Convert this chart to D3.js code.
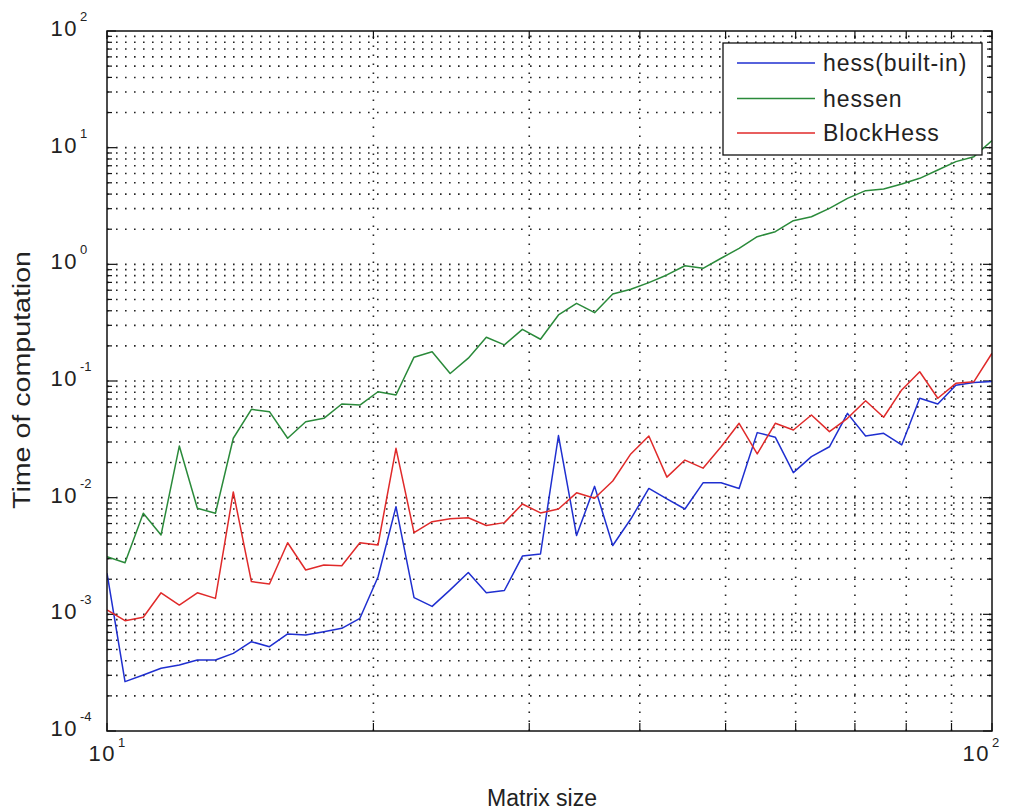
<!DOCTYPE html>
<html>
<head>
<meta charset="utf-8">
<script src="https://cdn.jsdelivr.net/npm/d3@7"></script>
<style>
  html, body { margin: 0; padding: 0; background: #fff; }
  svg { display: block; }
  text { font-family: "Liberation Sans", Arial, Helvetica, sans-serif; fill: #222; }
</style>
</head>
<body>
<svg id="chart" width="1013" height="811"></svg>
<script>
// ---- data ----
const sizes = [10.00,10.48,10.99,11.51,12.07,12.65,13.26,13.89,14.56,15.26,16.00,16.77,17.58,18.42,19.31,20.24,21.21,22.23,23.30,24.42,25.60,26.83,28.12,29.47,30.89,32.37,33.93,35.56,37.28,39.07,40.95,42.92,44.98,47.15,49.42,51.79,54.29,56.90,59.64,62.51,65.51,68.66,71.97,75.43,79.06,82.86,86.85,91.03,95.41,100.00];

const hessBuiltin = [0.00225,0.000265,0.000302,0.000345,0.000368,0.000406,0.000406,0.000463,0.000583,0.000528,
  0.000679,0.000665,0.000710,0.000759,0.000925,0.00209,0.00837,0.00139,0.00117,0.00162,
  0.00228,0.00153,0.00160,0.00316,0.00329,0.0341,0.00474,0.0125,0.00389,0.00656,
  0.0120,0.00975,0.00800,0.0134,0.0134,0.0120,0.0361,0.0330,0.0164,0.0225,
  0.0273,0.0528,0.0338,0.0356,0.0283,0.0711,0.0635,0.0920,0.0970,0.0990];

const hessen = [0.00312,0.00277,0.00735,0.00479,0.0277,0.00811,0.00735,0.0323,0.0572,0.0546,
  0.0323,0.0448,0.0479,0.0635,0.0622,0.0809,0.0759,0.160,0.178,0.116,
  0.157,0.237,0.204,0.277,0.228,0.368,0.463,0.385,0.557,0.611,
  0.697,0.811,0.973,0.925,1.127,1.372,1.726,1.905,2.366,2.56,
  3.02,3.68,4.28,4.42,4.88,5.46,6.44,7.59,8.37,11.5];

const blockHess = [0.00109,0.000883,0.000944,0.00153,0.00120,0.00153,0.00137,0.0112,0.00191,0.00182,
  0.00411,0.00240,0.00265,0.00261,0.00411,0.00393,0.0265,0.00501,0.00622,0.00659,
  0.00673,0.00578,0.00611,0.00883,0.00740,0.00800,0.0110,0.00988,0.0139,0.0237,
  0.0338,0.0150,0.0210,0.0179,0.0273,0.0434,0.0237,0.0434,0.0380,0.0511,
  0.0368,0.0479,0.0678,0.0489,0.0838,0.120,0.0711,0.0955,0.0986,0.173];

const seriesNames = ["hess(built-in)", "hessen", "BlockHess"];
const seriesColors = ["#1f2fd0", "#2a8a3a", "#e02a2a"];
const xTickValues = [10, 100];
const xTickExponents = ["1", "2"];
const yTickValues = [1e-4, 1e-3, 1e-2, 1e-1, 1e0, 1e1, 1e2];
const yTickExponents = ["-4", "-3", "-2", "-1", "0", "1", "2"];
const xTitle = "Matrix size";
const yTitle = "Time of computation";

// ---- layout ----
const L = 107, R = 992, T = 31, B = 731;
const svg = d3.select("#chart");

const x = d3.scaleLog().domain([10, 100]).range([L, R]);
const y = d3.scaleLog().domain([1e-4, 1e2]).range([B, T]);

// minor positions
const xMinor = d3.range(10, 101, 10);
const yMinor = [];
for (let e = -4; e < 2; e++) for (let m = 1; m <= 9; m++) yMinor.push(m * Math.pow(10, e));
yMinor.push(100);

// grid (dotted)
const grid = svg.append("g").attr("stroke", "#222").attr("stroke-width", 1.6)
  .attr("stroke-dasharray", "1.6,7.4").attr("fill", "none");
grid.selectAll("line.gy").data(yMinor.filter(v => v > 1e-4 && v < 1e2)).join("line")
  .attr("x1", L).attr("x2", R).attr("y1", d => y(d)).attr("y2", d => y(d));
grid.selectAll("line.gx").data(xMinor.filter(v => v > 10 && v < 100)).join("line")
  .attr("y1", B).attr("y2", T).attr("x1", d => x(d)).attr("x2", d => x(d));

// ticks (inside, all four sides)
const ticks = svg.append("g").attr("stroke", "#111").attr("stroke-width", 1.2);
yMinor.forEach(v => {
  const isMajor = Math.abs(Math.log10(v) - Math.round(Math.log10(v))) < 1e-9;
  const len = isMajor ? 9 : 5;
  ticks.append("line").attr("x1", L).attr("x2", L + len).attr("y1", y(v)).attr("y2", y(v));
  ticks.append("line").attr("x1", R).attr("x2", R - len).attr("y1", y(v)).attr("y2", y(v));
});
xMinor.forEach(v => {
  const len = 8;
  ticks.append("line").attr("y1", B).attr("y2", B - len).attr("x1", x(v)).attr("x2", x(v));
  ticks.append("line").attr("y1", T).attr("y2", T + len).attr("x1", x(v)).attr("x2", x(v));
});

// lines
const line = d3.line().x((d, i) => x(sizes[i])).y(d => y(d));
const allSeries = [hessBuiltin, hessen, blockHess];
svg.append("clipPath").attr("id", "clip").append("rect")
  .attr("x", L).attr("y", T).attr("width", R - L).attr("height", B - T);
svg.append("g").attr("clip-path", "url(#clip)")
  .selectAll("path").data(allSeries).join("path")
  .attr("d", d => line(d))
  .attr("fill", "none")
  .attr("stroke", (d, i) => seriesColors[i])
  .attr("stroke-width", 1.5)
  .attr("stroke-linejoin", "round");

// frame
svg.append("rect").attr("x", L).attr("y", T).attr("width", R - L).attr("height", B - T)
  .attr("fill", "none").attr("stroke", "#111").attr("stroke-width", 1.5);

// y tick labels
const yl = svg.append("g");
yTickValues.forEach((v, i) => {
  const g = yl.append("g").attr("transform", `translate(0,${y(v)})`);
  g.append("text").attr("x", 78).attr("y", 5).attr("text-anchor", "end")
    .attr("font-size", 22).attr("letter-spacing", 1.5).text("10");
  g.append("text").attr("x", 80).attr("y", -10).attr("text-anchor", "start")
    .attr("font-size", 13).text(yTickExponents[i]);
});

// x tick labels
const xLabelEnd = [116, 990];
xTickValues.forEach((v, i) => {
  svg.append("text").attr("x", xLabelEnd[i]).attr("y", 761).attr("text-anchor", "end")
    .attr("font-size", 22).attr("letter-spacing", 1.5).text("10");
  svg.append("text").attr("x", xLabelEnd[i] + 2).attr("y", 747).attr("text-anchor", "start")
    .attr("font-size", 13).text(xTickExponents[i]);
});

// axis titles
svg.append("text").attr("x", 542).attr("y", 806).attr("text-anchor", "middle")
  .attr("font-size", 23).text(xTitle);
svg.append("text").attr("transform", "translate(30,380) rotate(-90)")
  .attr("text-anchor", "middle").attr("font-size", 23)
  .attr("textLength", 258).attr("lengthAdjust", "spacingAndGlyphs").text(yTitle);

// legend
const lg = svg.append("g");
lg.append("rect").attr("x", 723).attr("y", 43).attr("width", 259).attr("height", 112)
  .attr("fill", "#fff").attr("stroke", "#111").attr("stroke-width", 1.3);
const legendY = [63, 98.5, 133];
seriesNames.forEach((name, i) => {
  lg.append("line").attr("x1", 737).attr("x2", 815)
    .attr("y1", legendY[i]).attr("y2", legendY[i])
    .attr("stroke", seriesColors[i]).attr("stroke-width", 1.5);
  lg.append("text").attr("x", 823).attr("y", legendY[i] + 8)
    .attr("font-size", 23).attr("letter-spacing", 0.9).text(name);
});
</script>
</body>
</html>
